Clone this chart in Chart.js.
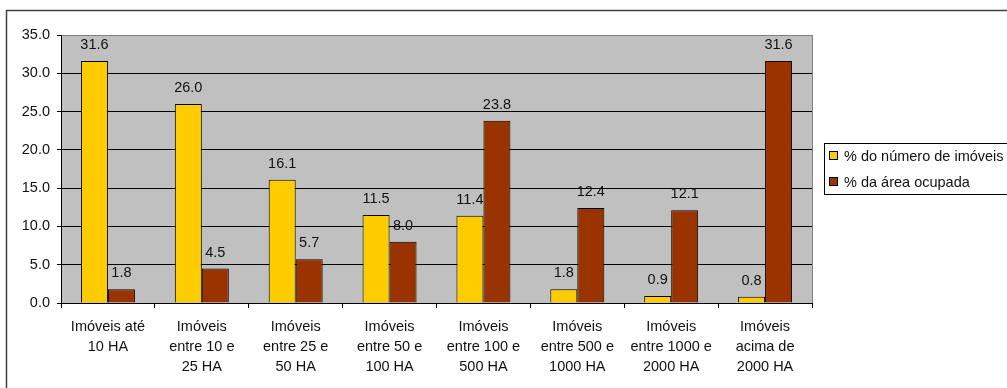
<!DOCTYPE html>
<html>
<head>
<meta charset="utf-8">
<script src="https://cdn.jsdelivr.net/npm/chart.js@4.4.1/dist/chart.umd.min.js"></script>
<style>
html,body{margin:0;padding:0;background:#fff;}
#wrap{position:relative;width:1007px;height:388px;}
</style>
</head>
<body>
<div id="wrap"><canvas id="c" width="1007" height="388"></canvas></div>
<script>
const categories = [
  ["Imóveis até", "10 HA"],
  ["Imóveis", "entre 10 e", "25 HA"],
  ["Imóveis", "entre 25 e", "50 HA"],
  ["Imóveis", "entre 50 e", "100 HA"],
  ["Imóveis", "entre 100 e", "500 HA"],
  ["Imóveis", "entre 500 e", "1000 HA"],
  ["Imóveis", "entre 1000 e", "2000 HA"],
  ["Imóveis", "acima de", "2000 HA"]
];
const seriesNames = ["% do número de imóveis", "% da área ocupada"];
const numeroImoveis = [31.6, 26.0, 16.1, 11.5, 11.4, 1.8, 0.9, 0.8];
const areaOcupada = [1.8, 4.5, 5.7, 8.0, 23.8, 12.4, 12.1, 31.6];
const yTickLabels = ["0.0", "5.0", "10.0", "15.0", "20.0", "25.0", "30.0", "35.0"];
const colors = ["#FFCC00", "#993300"];

const FONT = "'Liberation Sans', Arial, sans-serif";
const FS = 14.5;

const framePlugin = {
  id: 'frame',
  beforeDraw(chart) {
    const ctx = chart.ctx, a = chart.chartArea;
    ctx.save();
    ctx.fillStyle = '#fff';
    ctx.fillRect(0, 0, chart.width, chart.height);
    ctx.strokeStyle = '#404040';
    ctx.lineWidth = 1.5;
    ctx.strokeRect(6.5, 10.5, 1200, 600);
    ctx.fillStyle = '#C0C0C0';
    ctx.fillRect(a.left, a.top, a.right - a.left, a.bottom - a.top);
    ctx.strokeStyle = '#808080';
    ctx.lineWidth = 1;
    ctx.beginPath();
    ctx.moveTo(a.right + 0.5, a.top);
    ctx.lineTo(a.right + 0.5, a.bottom);
    ctx.stroke();
    ctx.restore();
  },
  afterDatasetsDraw(chart) {
    const ctx = chart.ctx;
    ctx.save();
    ctx.font = FS + 'px ' + FONT;
    ctx.fillStyle = '#111';
    ctx.textAlign = 'center';
    ctx.textBaseline = 'alphabetic';
    chart.data.datasets.forEach((ds, i) => {
      const meta = chart.getDatasetMeta(i);
      meta.data.forEach((bar, j) => {
        ctx.fillText(ds.data[j].toFixed(1), bar.x, bar.y - 12);
      });
    });
    ctx.restore();
  },
  afterDraw(chart) {
    const ctx = chart.ctx;
    ctx.save();
    ctx.strokeStyle = '#000';
    ctx.lineWidth = 1;
    ctx.fillStyle = '#fff';
    ctx.fillRect(824.5, 143.5, 300, 51);
    ctx.strokeRect(824.5, 143.5, 300, 51);
    ctx.font = FS + 'px ' + FONT;
    ctx.textBaseline = 'middle';
    ctx.textAlign = 'left';
    const ys = [156, 182];
    seriesNames.forEach((n, i) => {
      ctx.fillStyle = colors[i];
      ctx.fillRect(829.5, ys[i] - 4.5, 8, 8);
      ctx.strokeStyle = '#000';
      ctx.strokeRect(829.5, ys[i] - 4.5, 8, 8);
      ctx.fillStyle = '#111';
      ctx.fillText(n, 844, ys[i] + 1);
    });
    ctx.restore();
  }
};

new Chart(document.getElementById('c'), {
  type: 'bar',
  data: {
    labels: categories,
    datasets: [
      { label: seriesNames[0], data: numeroImoveis, backgroundColor: colors[0], borderColor: '#000', borderWidth: 1, categoryPercentage: 0.575, barPercentage: 1.0 },
      { label: seriesNames[1], data: areaOcupada, backgroundColor: colors[1], borderColor: '#000', borderWidth: 1, categoryPercentage: 0.575, barPercentage: 1.0 }
    ]
  },
  options: {
    responsive: false,
    animation: false,
    devicePixelRatio: 1,
    layout: { padding: { top: 35, right: 195, left: 0, bottom: 0 } },
    plugins: { legend: { display: false }, tooltip: { enabled: false } },
    scales: {
      x: {
        offset: true,
        grid: { display: true, drawOnChartArea: false, drawTicks: true, tickLength: 5, offset: true, color: '#000', tickColor: '#000' },
        border: { display: true, color: '#000', width: 1 },
        ticks: { color: '#111', font: { family: FONT, size: FS, lineHeight: 20/FS }, padding: 9, maxRotation: 0, autoSkip: false },
        afterFit(s) { s.height = 85; }
      },
      y: {
        min: 0, max: 35,
        ticks: { stepSize: 5, color: '#111', font: { family: FONT, size: FS }, padding: 7,
          callback: (v, i) => yTickLabels[i] },
        grid: { color: (c) => (c.tick && c.tick.value === 35) ? '#808080' : '#000', tickColor: '#000', tickLength: 4, lineWidth: 1 },
        border: { display: true, color: '#000', width: 1 },
        afterFit(s) { s.width = 61; }
      }
    }
  },
  plugins: [framePlugin]
});
</script>
</body>
</html>
